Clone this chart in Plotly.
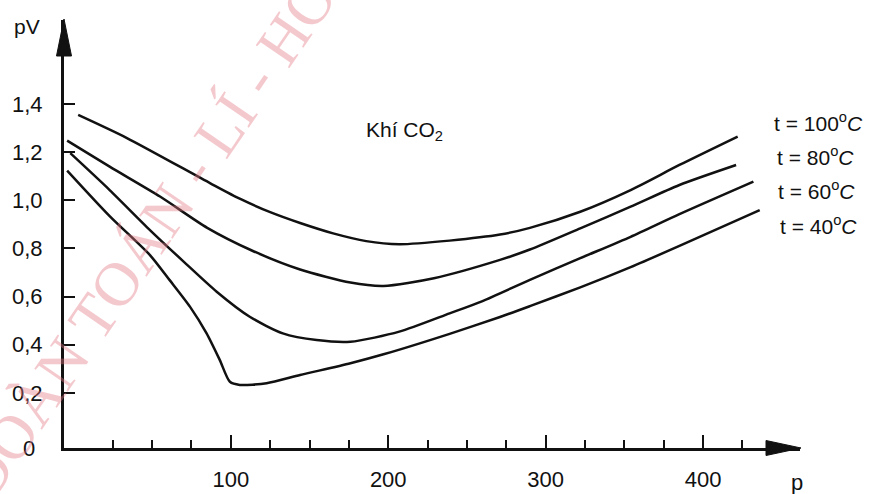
import plotly.graph_objects as go

# ---- data ----
p_100 = [3, 34, 87, 106, 125, 144, 165, 186, 207, 239, 271, 290, 322, 354, 385, 422]
pv_100 = [1.354, 1.258, 1.07, 1.005, 0.95, 0.905, 0.862, 0.83, 0.817, 0.832, 0.857, 0.885, 0.952, 1.042, 1.146, 1.264]

p_80 = [-4, 23, 55, 85, 113, 144, 176, 197, 229, 271, 290, 322, 354, 385, 421]
pv_80 = [1.247, 1.139, 1.015, 0.885, 0.792, 0.712, 0.658, 0.644, 0.676, 0.752, 0.795, 0.883, 0.973, 1.063, 1.146]

p_60 = [-2, 23, 48.6, 70, 91, 112, 133, 154.5, 176, 207, 239, 259.5, 290, 322, 354, 385, 432]
pv_60 = [1.195, 1.042, 0.876, 0.745, 0.62, 0.516, 0.447, 0.419, 0.412, 0.454, 0.53, 0.58, 0.669, 0.759, 0.848, 0.942, 1.077]

p_40 = [-4, 23, 48.6, 61, 74, 84.6, 93, 99.4, 105.7, 122.7, 144, 176, 197, 239, 271, 290, 322, 354, 385, 436]
pv_40 = [1.123, 0.934, 0.772, 0.669, 0.558, 0.447, 0.336, 0.246, 0.233, 0.24, 0.274, 0.323, 0.36, 0.445, 0.515, 0.56, 0.638, 0.722, 0.81, 0.959]

series = [("t = 100<sup>o</sup><i>C</i>", p_100, pv_100),
          ("t = 80<sup>o</sup><i>C</i>", p_80, pv_80),
          ("t = 60<sup>o</sup><i>C</i>", p_60, pv_60),
          ("t = 40<sup>o</sup><i>C</i>", p_40, pv_40)]

x_major = [100, 200, 300, 400]
x_minor = [25, 50, 75, 125, 150, 175, 225, 250, 275, 325, 350, 375, 425]
y_ticks = [0.2, 0.4, 0.6, 0.8, 1.0, 1.2, 1.4]
y_text = ["0,2", "0,4", "0,6", "0,8", "1,0", "1,2", "1,4"]

W, H = 873, 494
L, T, R, B = 64, 20, 800, 448


def px(x):
    return (x - L) / (R - L)


def py(y):
    return (B - y) / (B - T)


FONT = "Liberation Sans, Arial, sans-serif"
INK = "#111111"

fig = go.Figure()
for name, xs, ys in series:
    fig.add_trace(go.Scatter(x=xs, y=ys, mode="lines", name=name,
                             line=dict(color=INK, width=2.5, shape="spline", smoothing=0.7),
                             showlegend=False, hoverinfo="skip"))

fig.update_layout(
    width=W, height=H,
    margin=dict(l=L, r=W - R, t=T, b=H - B, pad=0, autoexpand=False),
    paper_bgcolor="white", plot_bgcolor="white",
    font=dict(family=FONT, size=22, color=INK),
    xaxis=dict(range=[-6.0, 461.6], showgrid=False, zeroline=False, automargin=False,
               showline=True, linecolor=INK, linewidth=3,
               tickmode="array", tickvals=x_major, ticktext=[str(v) for v in x_major],
               ticks="inside", ticklen=13, tickwidth=2, tickcolor=INK,
               ticklabelstandoff=10,
               minor=dict(tickmode="array", tickvals=x_minor, ticks="inside",
                          ticklen=8, tickwidth=2, tickcolor=INK, showgrid=False)),
    yaxis=dict(range=[-0.029, 1.748], showgrid=False, zeroline=False, automargin=False,
               showline=True, linecolor=INK, linewidth=3,
               tickmode="array", tickvals=y_ticks, ticktext=y_text,
               ticks="inside", ticklen=11, tickwidth=2, tickcolor=INK,
               ticklabelstandoff=14),
)

# axis arrow heads
fig.add_shape(type="path", xref="paper", yref="paper",
              path=f"M {px(64)},{py(19)} L {px(56.5)},{py(56)} L {px(71.5)},{py(56)} Z",
              fillcolor=INK, line=dict(color=INK, width=1))
fig.add_shape(type="path", xref="paper", yref="paper",
              path=f"M {px(801)},{py(448)} L {px(766)},{py(440.5)} L {px(766)},{py(455.5)} Z",
              fillcolor=INK, line=dict(color=INK, width=1))

ann = [
    ("pV", 27, 27, 21),
    ("p", 797, 482, 22),
    ("0", 29, 449, 22),
    ("Khí CO<sub>2</sub>", 404, 131, 21),
    (series[0][0], 818, 122, 21),
    (series[1][0], 815, 156, 21),
    (series[2][0], 816, 190, 21),
    (series[3][0], 818, 225, 21),
]
for text, x, y, s in ann:
    fig.add_annotation(text=text, x=px(x), y=py(y), xref="paper", yref="paper",
                       showarrow=False, xanchor="center", yanchor="middle",
                       font=dict(family=FONT, size=s, color=INK))

# red watermark
fig.add_annotation(text="ĐOÀN TOÁN - LÍ - HÓA", x=px(160), y=py(220), xref="paper", yref="paper",
                   showarrow=False, textangle=-55.6, xanchor="center", yanchor="middle",
                   font=dict(family="Liberation Serif, serif", size=62, color="rgba(228,120,132,0.4)"))

fig.write_html("out.html", config={"displayModeBar": False},
               post_script="document.body.style.margin='0';")
